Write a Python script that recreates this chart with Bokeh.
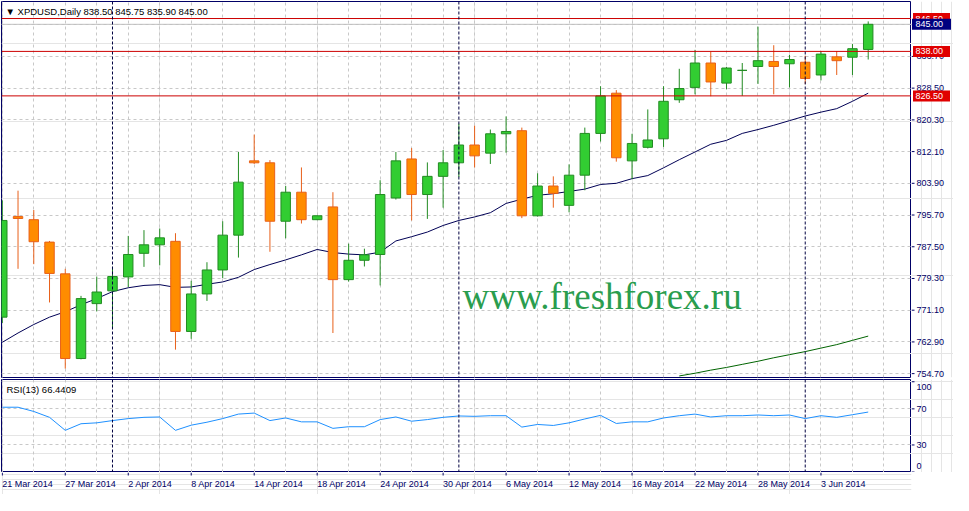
import math
from datetime import datetime
from bokeh.plotting import figure
from bokeh.models import ColumnDataSource, Span, Label, FixedTicker, Grid, Range1d
from bokeh.layouts import column, row
from bokeh.embed import file_html
from bokeh.resources import INLINE
from bokeh.core.properties import value

# ---------------- data ----------------
symbol = "XPDUSD"
timeframe = "Daily"

dates = [
    "2014-03-21", "2014-03-24", "2014-03-25", "2014-03-26", "2014-03-27", "2014-03-28", "2014-03-31",
    "2014-04-01", "2014-04-02", "2014-04-03", "2014-04-04", "2014-04-07", "2014-04-08", "2014-04-09",
    "2014-04-10", "2014-04-11", "2014-04-14", "2014-04-15", "2014-04-16", "2014-04-17", "2014-04-18",
    "2014-04-21", "2014-04-22", "2014-04-23", "2014-04-24", "2014-04-25", "2014-04-28", "2014-04-29",
    "2014-04-30", "2014-05-01", "2014-05-02", "2014-05-05", "2014-05-06", "2014-05-07", "2014-05-08",
    "2014-05-09", "2014-05-12", "2014-05-13", "2014-05-14", "2014-05-15", "2014-05-16", "2014-05-19",
    "2014-05-20", "2014-05-21", "2014-05-22", "2014-05-23", "2014-05-26", "2014-05-27", "2014-05-28",
    "2014-05-29", "2014-05-30", "2014-06-02", "2014-06-03", "2014-06-04", "2014-06-05", "2014-06-06",
]

opens = [769.3, 795.3, 794.5, 788.7, 780.5, 758.6, 772.8, 776.1, 779.7, 785.8, 788.0, 788.9, 765.6, 775.3,
         781.5, 790.5, 809.7, 809.2, 794.1, 801.6, 794.5, 797.8, 779.0, 784.0, 785.5, 800.1, 810.2, 801.0,
         805.7, 809.2, 813.8, 811.7, 816.7, 817.5, 795.5, 803.2, 798.2, 806.0, 816.8, 827.2, 809.7, 813.2,
         815.4, 825.5, 828.7, 835.0, 829.8, 833.1, 834.1, 835.4, 834.8, 835.2, 831.9, 836.6, 836.5, 838.50]
highs = [799.5, 802.0, 797.0, 789.0, 781.8, 774.8, 779.8, 782.3, 790.3, 791.8, 792.2, 791.0, 778.7, 783.5,
         794.1, 812.0, 816.5, 809.9, 803.2, 808.0, 795.6, 801.6, 788.3, 787.0, 804.7, 812.0, 813.0, 809.3,
         812.5, 819.3, 818.8, 817.8, 821.2, 818.3, 806.5, 805.7, 808.8, 818.3, 829.0, 828.0, 816.7, 823.0,
         829.0, 833.5, 838.4, 837.9, 834.0, 835.0, 844.4, 839.6, 837.1, 836.9, 838.1, 838.1, 839.9, 845.75]
lows = [767.8, 781.8, 783.0, 773.1, 756.0, 758.4, 770.8, 766.4, 777.1, 782.3, 782.7, 760.9, 763.7, 773.5,
        779.4, 784.7, 808.9, 786.2, 789.7, 793.5, 794.4, 765.2, 778.5, 782.4, 777.5, 799.7, 794.3, 794.7,
        797.6, 805.5, 808.0, 808.9, 811.8, 794.9, 795.3, 797.6, 796.4, 802.1, 814.7, 809.5, 805.0, 812.9,
        813.3, 824.7, 826.9, 826.4, 828.2, 826.5, 829.6, 826.9, 828.7, 829.6, 830.5, 831.9, 831.9, 835.90]
closes = [794.3, 794.8, 788.8, 780.6, 758.6, 774.1, 775.8, 779.8, 785.5, 788.0, 789.8, 765.6, 775.3, 781.5,
          790.5, 804.2, 809.2, 794.1, 801.6, 794.5, 795.5, 779.0, 784.0, 785.4, 801.0, 809.7, 801.0, 805.7,
          809.2, 813.8, 811.0, 816.7, 817.3, 795.5, 803.2, 801.3, 806.0, 816.8, 826.5, 810.5, 814.2, 815.1,
          825.1, 828.4, 835.0, 830.1, 833.7, 833.1, 835.6, 834.1, 835.9, 831.0, 837.3, 835.6, 838.7, 845.00]

ma_short = [762.8, 765.2, 767.4, 769.3, 770.7, 772.5, 774.1, 775.9, 776.9, 777.5, 777.7, 777.0, 777.1, 777.8,
            778.4, 779.6, 781.6, 782.9, 784.1, 785.4, 786.8, 786.0, 785.6, 785.4, 786.1, 789.0, 790.1, 791.3,
            793.0, 794.3, 795.2, 796.3, 798.7, 799.8, 800.8, 801.2, 801.8, 802.4, 803.6, 803.9, 805.1, 805.9,
            807.9, 810.0, 812.0, 814.0, 815.0, 816.8, 817.8, 818.9, 820.1, 821.3, 822.3, 823.2, 825.1, 827.2]
nan = float("nan")
ma_long = [nan] * 43 + [754.1, 754.8, 755.6, 756.3, 757.1, 757.9, 758.8, 759.6, 760.4, 761.3, 762.2, 763.3, 764.4]

rsi = [71.8, 71.8, 67.1, 60.6, 46.2, 53.5, 54.5, 57.0, 59.2, 60.6, 61.0, 46.2, 51.9, 55.2,
       59.2, 64.2, 65.3, 57.0, 59.9, 55.6, 55.6, 48.4, 50.2, 50.2, 58.1, 61.0, 56.3, 58.1,
       60.6, 62.1, 61.7, 62.4, 62.4, 49.8, 52.7, 51.6, 54.5, 58.8, 62.8, 53.8, 55.6, 55.6,
       59.9, 62.4, 64.2, 61.0, 62.4, 62.4, 63.2, 62.4, 63.2, 59.2, 62.4, 60.6, 63.5, 66.4409]
rsi_period = 13

price_ticks = [754.7, 762.9, 771.1, 779.3, 787.5, 795.7, 803.9, 812.1, 820.3, 828.5, 836.7, 844.9]
levels = [846.5, 838.0, 826.5]
bid = 845.0
rsi_ticks = [0, 30, 70, 100]
rsi_levels = [30, 70]
watermark = "www.freshforex.ru"

# ---------------- styling ----------------
NAVY = "#000066"
GRID = "#c8c8c8"
FONT = "Liberation Sans"
BULL_FILL, BULL_LINE = "#32cd32", "#228b22"
BEAR_FILL, BEAR_LINE = "#ff8c00", "#e8601a"
FRAME_W, SIDE_W = 910, 42
MAIN_H, RSI_H, DATE_H = 376, 93, 22

idx = list(range(len(dates)))
bull = [c >= o for o, c in zip(opens, closes)]
src = ColumnDataSource(dict(
    x=idx, open=opens, high=highs, low=lows, close=closes,
    top=[max(o, c) for o, c in zip(opens, closes)],
    bottom=[min(o, c) for o, c in zip(opens, closes)],
    fill=[BULL_FILL if b else BEAR_FILL for b in bull],
    line=[BULL_LINE if b else BEAR_LINE for b in bull],
))

x_range = Range1d(-0.05, 57.75)
price_range = Range1d(753.7, 850.9)
rsi_range = Range1d(-0.5, 102.5)
grid_ticks = list(range(0, 58, 2))
label_ticks = list(range(0, len(dates), 4))
month_breaks = [i for i in range(1, len(dates)) if dates[i][5:7] != dates[i - 1][5:7]]


def fmt_date(s):
    d = datetime.strptime(s, "%Y-%m-%d")
    return f"{d.day} {d.strftime('%b')} {d.year}"


def plain(fig):
    fig.background_fill_color = "white"
    fig.border_fill_color = "white"
    return fig


# ---------------- main price panel ----------------
p = plain(figure(frame_width=FRAME_W, frame_height=MAIN_H, x_range=x_range, y_range=price_range,
                 output_backend="svg", toolbar_location=None, x_axis_location=None, y_axis_location=None,
                 min_border_left=1, min_border_right=0, min_border_top=1, min_border_bottom=1))
p.outline_line_color = NAVY

p.add_layout(Grid(dimension=1, ticker=FixedTicker(ticks=price_ticks), grid_line_color=GRID, grid_line_dash="3 3"))
p.add_layout(Grid(dimension=0, ticker=FixedTicker(ticks=grid_ticks), grid_line_color=GRID, grid_line_dash="3 3"))

p.add_layout(Span(location=bid, dimension="width", line_color="#c0c0c0", line_width=1, level="underlay"))

p.line(idx, ma_short, line_color="#000055", line_width=1)
p.line(idx, ma_long, line_color="#006400", line_width=1)

p.segment(x0="x", y0="low", x1="x", y1="high", line_color="line", line_width=1, source=src)
p.vbar(x="x", width=0.6, top="top", bottom="bottom", fill_color="fill", line_color="line",
       line_width=1, source=src)

for lv in levels:
    p.add_layout(Span(location=lv, dimension="width", line_color="#cc0000", line_width=1))
for mb in month_breaks:
    p.add_layout(Span(location=mb, dimension="height", line_color="#000040", line_width=1, line_dash="3 2"))

header = (f"\u25bc {symbol},{timeframe}  {opens[-1]:.2f} {highs[-1]:.2f} "
          f"{lows[-1]:.2f} {closes[-1]:.2f}")
p.add_layout(Label(x=x_range.start, y=price_range.end, x_offset=4, y_offset=-4, text=header,
                   text_color="#000000", text_font=FONT, text_font_size="9.5px",
                   text_align="left", text_baseline="top"))
p.add_layout(Label(x=38.1, y=774.6, text=watermark, text_color="#2a9d4e", text_font="Liberation Serif",
                   text_font_size="37px", text_align="center", text_baseline="alphabetic"))

# ---------------- price scale (right) ----------------
s = plain(figure(frame_width=SIDE_W, frame_height=MAIN_H, x_range=Range1d(0, SIDE_W), y_range=price_range,
                 output_backend="svg", toolbar_location=None, x_axis_location=None, y_axis_location=None,
                 min_border_left=0, min_border_right=0, min_border_top=1, min_border_bottom=1))
s.outline_line_color = None
s.segment(x0=[0] * len(price_ticks), y0=price_ticks, x1=[3] * len(price_ticks), y1=price_ticks,
          line_color=NAVY, line_width=1)
s.text(x=[5] * len(price_ticks), y=price_ticks, text=[f"{t:.2f}" for t in price_ticks],
       text_font=value(FONT), text_font_size=value("9px"), text_color=NAVY,
       text_align="left", text_baseline="middle")
s.rect(x=[20] * len(levels), y=levels, width=37, height=11, width_units="screen", height_units="screen",
       fill_color="#e00000", line_color=None)
s.text(x=[4] * len(levels), y=levels, text=[f"{lv:.2f}" for lv in levels],
       text_font=value(FONT), text_font_size=value("9px"), text_color="white",
       text_align="left", text_baseline="middle")
s.rect(x=[20], y=[bid], width=39, height=11, width_units="screen", height_units="screen",
       fill_color="#000080", line_color=None)
s.text(x=[4], y=[bid], text=[f"{bid:.2f}"], text_font=value(FONT), text_font_size=value("9px"),
       text_color="white", text_align="left", text_baseline="middle")

# ---------------- RSI panel ----------------
r = plain(figure(frame_width=FRAME_W, frame_height=RSI_H, x_range=x_range, y_range=rsi_range,
                 output_backend="svg", toolbar_location=None, x_axis_location=None, y_axis_location=None,
                 min_border_left=1, min_border_right=0, min_border_top=1, min_border_bottom=0))
r.outline_line_color = NAVY
r.add_layout(Grid(dimension=1, ticker=FixedTicker(ticks=rsi_levels), grid_line_color=GRID, grid_line_dash="3 3"))
r.add_layout(Grid(dimension=0, ticker=FixedTicker(ticks=grid_ticks), grid_line_color=GRID, grid_line_dash="3 3"))
r.line(idx, rsi, line_color="#1e90ff", line_width=1)
for mb in month_breaks:
    r.add_layout(Span(location=mb, dimension="height", line_color="#000040", line_width=1, line_dash="3 2"))
r.add_layout(Label(x=x_range.start, y=rsi_range.end, x_offset=5, y_offset=-4,
                   text=f"RSI({rsi_period}) {rsi[-1]:.4f}", text_color="#000000", text_font=FONT,
                   text_font_size="9.5px", text_align="left", text_baseline="top"))

# RSI scale (end labels are drawn inset from the panel edges, as in the terminal)
rs = plain(figure(frame_width=SIDE_W, frame_height=RSI_H, x_range=Range1d(0, SIDE_W), y_range=rsi_range,
                  output_backend="svg", toolbar_location=None, x_axis_location=None, y_axis_location=None,
                  min_border_left=0, min_border_right=0, min_border_top=1, min_border_bottom=0))
rs.outline_line_color = None
rsi_src = ColumnDataSource(dict(
    y=rsi_ticks, x0=[0] * len(rsi_ticks), x1=[3] * len(rsi_ticks), xt=[5] * len(rsi_ticks),
    text=[str(t) for t in rsi_ticks],
    dy=[-6 if t == min(rsi_ticks) else (5 if t == max(rsi_ticks) else 0) for t in rsi_ticks],
))
rs.segment(x0="x0", y0="y", x1="x1", y1="y", line_color=NAVY, line_width=1, source=rsi_src)
rs.text(x="xt", y="y", text="text", y_offset="dy", text_font=value(FONT), text_font_size=value("9px"),
        text_color=NAVY, text_align="left", text_baseline="middle", source=rsi_src)

# ---------------- date scale (bottom) ----------------
d = plain(figure(frame_width=FRAME_W, frame_height=DATE_H, x_range=x_range, y_range=Range1d(0, DATE_H),
                 output_backend="svg", toolbar_location=None, x_axis_location=None, y_axis_location=None,
                 min_border_left=1, min_border_right=SIDE_W, min_border_top=0, min_border_bottom=0))
d.outline_line_color = None
d.segment(x0=label_ticks, y0=[DATE_H] * len(label_ticks), x1=label_ticks, y1=[DATE_H - 3] * len(label_ticks),
          line_color=NAVY, line_width=1)
d.text(x=label_ticks, y=[DATE_H - 11] * len(label_ticks), text=[fmt_date(dates[i]) for i in label_ticks],
       text_font=value(FONT), text_font_size=value("9px"), text_color=NAVY,
       text_align="left", text_baseline="middle")

layout = column(row(p, s, spacing=0), row(r, rs, spacing=0), d, spacing=0)
open("out.html", "w").write(file_html(layout, INLINE))
